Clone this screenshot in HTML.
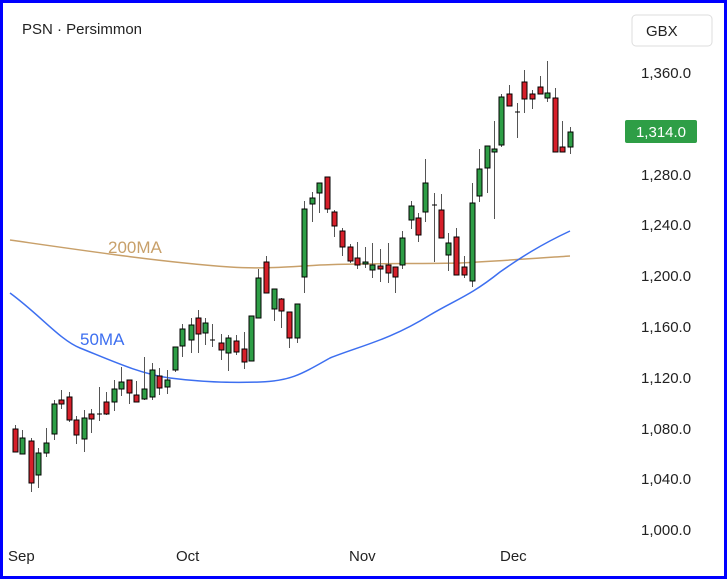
<!DOCTYPE html>
<html><head><style>
body{margin:0;background:#fff}
svg{display:block;font-family:"Liberation Sans",sans-serif}
</style></head><body>
<svg width="727" height="579" viewBox="0 0 727 579">
<rect x="1.5" y="1.5" width="724" height="576" fill="#fff" stroke="#0000ff" stroke-width="3"/>
<text x="22" y="34" font-size="15" fill="#222">PSN · Persimmon</text>
<rect x="632" y="15" width="80" height="31" rx="4" fill="#fff" stroke="#ddd"/>
<text x="646" y="36" font-size="15" fill="#222">GBX</text>
<g font-size="15" fill="#222">
<text x="641" y="78">1,360.0</text>
<text x="641" y="180">1,280.0</text>
<text x="641" y="230">1,240.0</text>
<text x="641" y="281">1,200.0</text>
<text x="641" y="332">1,160.0</text>
<text x="641" y="383">1,120.0</text>
<text x="641" y="434">1,080.0</text>
<text x="641" y="484">1,040.0</text>
<text x="641" y="535">1,000.0</text>
</g>
<rect x="625" y="120" width="72" height="23" rx="2" fill="#2e9e46"/>
<text x="661" y="137" font-size="15" fill="#fff" text-anchor="middle">1,314.0</text>
<g font-size="15" fill="#222">
<text x="8" y="561">Sep</text><text x="176" y="561">Oct</text><text x="349" y="561">Nov</text><text x="500" y="561">Dec</text>
</g>
<path d="M10,240 C80,250 160,262 230,267 C260,269 290,267 320,265 C360,263 420,264 460,263 C500,261 540,258 570,256" fill="none" stroke="#c8a06a" stroke-width="1.5"/>
<text x="108" y="253" font-size="17" fill="#c8a06a">200MA</text>
<path d="M10,293 C40,315 60,340 80,348 C110,360 140,374 170,378 C200,382 230,383 260,382 C290,381 300,375 330,358 C360,346 390,340 430,315 C455,300 470,296 500,272 C520,258 540,245 570,231" fill="none" stroke="#3d6ff0" stroke-width="1.5"/>
<text x="80" y="345" font-size="17" fill="#3d6ff0">50MA</text>
<g id="c" stroke="#000" stroke-width="1"></g>
</svg>
<script>
var d=[[15,'r',429,452,425,452],[22,'g',438,454,430,454],[31,'r',441,483,438,492],[38,'g',453,475,448,488],[46,'g',443,453,428,457],[54,'g',404,434,400,440],[61,'r',400,404,390,409],[69,'r',397,420,392,422],[76,'r',420,435,416,444],[84,'g',418,439,410,452],[91,'r',414,419,409,433],[99,'d',414,414,387,421],[106,'r',402,414,392,415],[114,'g',389,402,380,411],[121,'g',382,389,367,396],[129,'r',380,393,380,404],[136,'r',395,402,381,402],[144,'g',389,399,357,400],[152,'g',370,397,363,400],[159,'r',376,388,368,395],[167,'g',380,387,370,394],[175,'g',347,370,347,372],[182,'g',329,346,324,357],[191,'g',325,340,318,353],[198,'r',318,334,310,353],[205,'g',323,333,318,345],[212,'d',340,340,324,347],[221,'r',343,350,334,360],[228,'g',338,353,335,371],[236,'r',341,352,335,355],[244,'r',349,362,332,369],[251,'g',316,361,316,361],[258,'g',278,318,269,318],[266,'r',262,293,256,293],[274,'g',289,309,289,321],[281,'r',299,311,298,328],[289,'r',312,338,312,348],[297,'g',304,338,304,343],[304,'g',209,277,201,293],[312,'g',198,204,192,222],[319,'g',183,193,183,213],[327,'r',177,209,177,213],[334,'r',212,226,210,237],[342,'r',231,247,228,256],[350,'r',247,261,244,263],[357,'r',258,265,242,269],[365,'g',262,264,247,268],[372,'g',265,270,243,278],[380,'r',266,269,249,282],[388,'r',265,273,243,283],[395,'r',267,277,267,293],[402,'g',238,265,231,269],[411,'g',206,220,201,229],[418,'r',218,235,213,242],[425,'g',183,212,159,222],[434,'d',205,205,193,262],[441,'r',210,238,194,238],[448,'g',243,255,233,271],[456,'r',237,275,228,275],[464,'r',267,275,256,278],[472,'g',203,281,183,287],[479,'g',169,196,149,202],[487,'g',146,168,146,193],[494,'g',149,152,121,219],[501,'g',97,145,94,147],[509,'r',94,106,85,106],[517,'d',112,112,103,138],[524,'r',82,99,70,113],[532,'r',94,99,90,109],[540,'r',87,94,76,94],[547,'g',93,98,61,102],[555,'r',98,152,88,152],[562,'r',147,152,121,152],[570,'g',132,147,127,154]];
var g=document.getElementById('c'),s='';
d.forEach(function(c){var x=c[0];s+='<line x1="'+(x+.5)+'" x2="'+(x+.5)+'" y1="'+c[4]+'" y2="'+c[5]+'" stroke="#555"/>';
if(c[1]=='d'){s+='<line x1="'+(x-2)+'" x2="'+(x+3)+'" y1="'+c[2]+'" y2="'+c[2]+'"/>';}
else{s+='<rect x="'+(x-2)+'" y="'+c[2]+'" width="5" height="'+Math.max(2,c[3]-c[2])+'" fill="'+(c[1]=='g'?'#2e9e46':'#d61f2a')+'"/>';}});
g.innerHTML=s;
</script>
</body></html>
